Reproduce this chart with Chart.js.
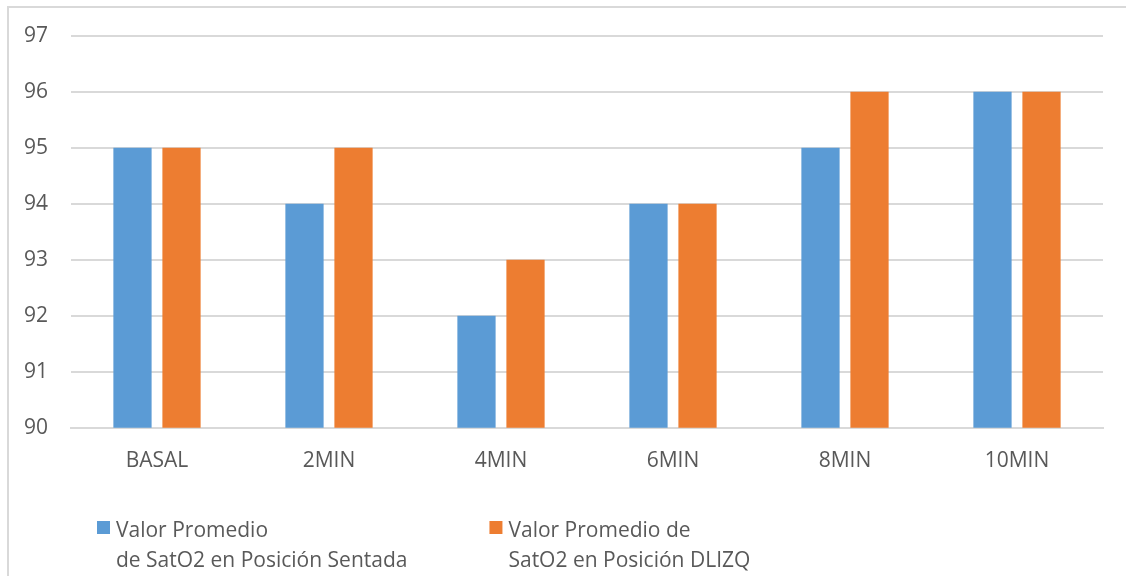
<!DOCTYPE html>
<html>
<head>
<meta charset="utf-8">
<script src="https://cdn.jsdelivr.net/npm/chart.js@4.4.1/dist/chart.umd.min.js"></script>
<style>
  html, body { margin: 0; padding: 0; background: #fff; overflow: hidden; }
  #wrap { position: relative; width: 1126px; height: 576px; }
  #frame { position: absolute; left: 7px; top: 6px; width: 1200px; height: 700px;
           border-left: 2px solid #d9d9d9; border-top: 2px solid #d9d9d9; box-sizing: border-box; }
  canvas { position: absolute; left: 0; top: 0; }
</style>
</head>
<body>
<div id="wrap">
  <div id="frame"></div>
  <canvas id="c" width="1126" height="576"></canvas>
</div>
<script>
// Sampling times and mean SatO2 per position
const categories = ['BASAL', '2MIN', '4MIN', '6MIN', '8MIN', '10MIN'];
const sentada = [95, 94, 92, 94, 95, 96];
const dlizq = [95, 95, 93, 94, 96, 96];
const seriesNames = [
  ['Valor Promedio', 'de SatO2 en Posición Sentada'],
  ['Valor Promedio de', 'SatO2 en Posición DLIZQ']
];
const yTicks = [90, 91, 92, 93, 94, 95, 96, 97];

const BLUE = '#5b9bd5';
const ORANGE = '#ed7d31';
const TEXT = '#595959';
const GRID = '#d9d9d9';
const FONT = "'Open Sans', sans-serif";

// Bottom legend with two-line entries: swatch beside the first line
const twoLineLegend = {
  id: 'twoLineLegend',
  afterDraw(chart, args, opts) {
    const ctx = chart.ctx;
    ctx.save();
    ctx.font = `${opts.fontSize}px ${FONT}`;
    ctx.textBaseline = 'alphabetic';
    ctx.textAlign = 'left';
    let x = opts.x;
    chart.data.datasets.forEach((ds, i) => {
      const lines = seriesNames[i];
      ctx.fillStyle = ds.backgroundColor;
      ctx.fillRect(x, opts.boxTop, opts.box, opts.box);
      ctx.fillStyle = TEXT;
      const tx = x + opts.box + opts.gap;
      let widest = 0;
      lines.forEach((line, k) => {
        ctx.fillText(line, tx, opts.baseline + k * opts.lineHeight);
        widest = Math.max(widest, ctx.measureText(line).width);
      });
      x = tx + widest + opts.itemGap;
    });
    ctx.restore();
  }
};

Chart.defaults.font.family = FONT;
Chart.defaults.font.size = 21;
Chart.defaults.color = TEXT;

new Chart(document.getElementById('c'), {
  type: 'bar',
  data: {
    labels: categories,
    datasets: [
      { label: seriesNames[0].join(' '), data: sentada, backgroundColor: BLUE,
        barPercentage: 0.78, categoryPercentage: 0.57 },
      { label: seriesNames[1].join(' '), data: dlizq, backgroundColor: ORANGE,
        barPercentage: 0.78, categoryPercentage: 0.57 }
    ]
  },
  plugins: [twoLineLegend],
  options: {
    responsive: false,
    animation: false,
    layout: { padding: { top: 24, right: 23, left: 14, bottom: 89 } },
    scales: {
      x: {
        grid: { display: false },
        border: { display: true, color: GRID, width: 2 },
        ticks: { autoSkip: false, maxRotation: 0, padding: 13, color: TEXT, font: { size: 21 } }
      },
      y: {
        min: 90, max: 97,
        afterBuildTicks: (axis) => { axis.ticks = yTicks.map(v => ({ value: v })); },
        afterFit: (axis) => { axis.width = 57; },
        grid: { color: GRID, lineWidth: 2, drawTicks: false },
        border: { display: false },
        ticks: { padding: 23, color: TEXT, font: { size: 21 } }
      }
    },
    plugins: {
      tooltip: { enabled: false },
      legend: { display: false },
      twoLineLegend: {
        x: 97, boxTop: 521, box: 13, gap: 6,
        baseline: 537, lineHeight: 30, fontSize: 21, itemGap: 82
      }
    }
  }
});
</script>
</body>
</html>
